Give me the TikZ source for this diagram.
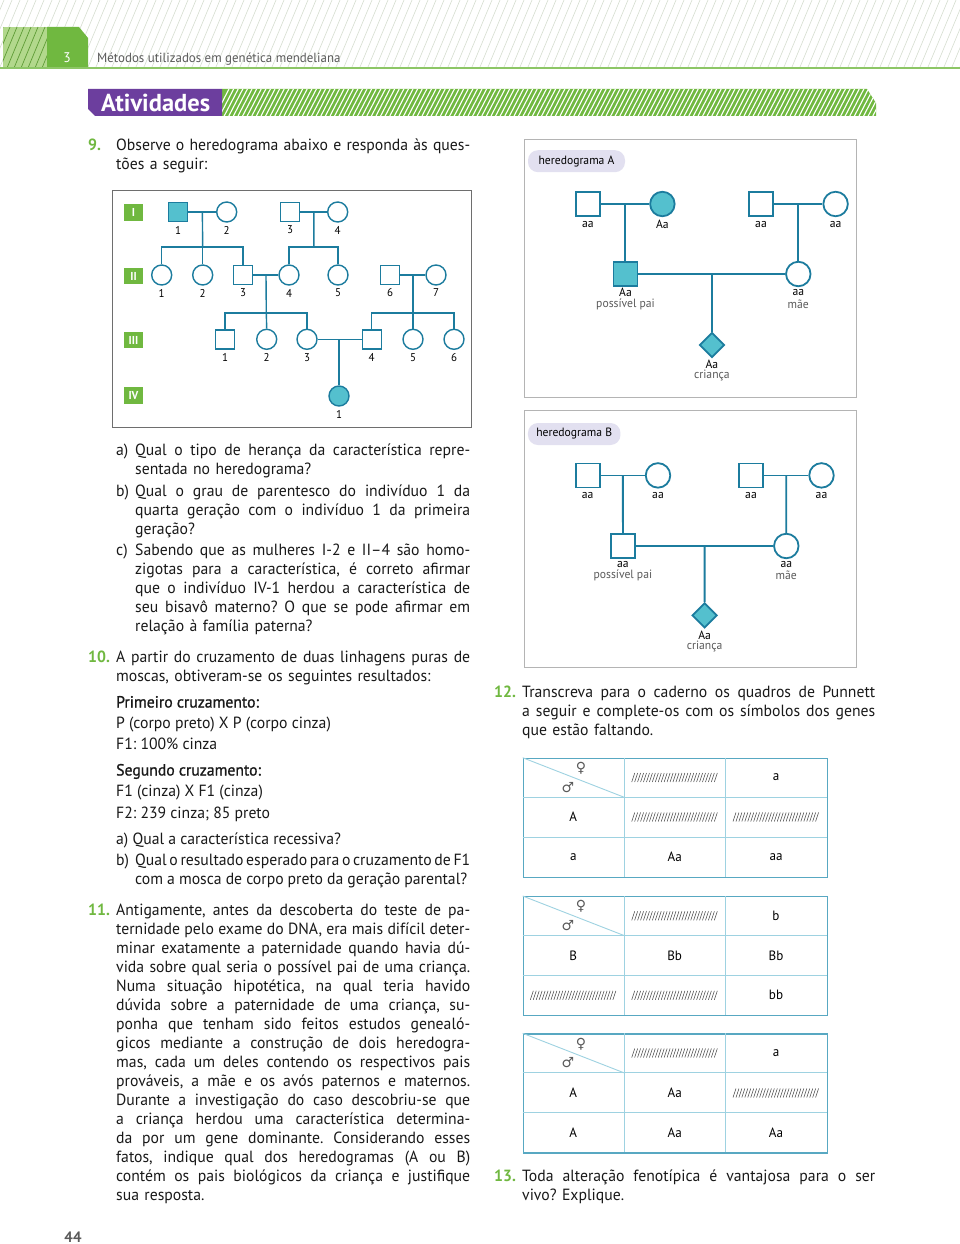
\documentclass[tikz,border=0pt]{standalone}
\usepackage{fontspec}
\setmainfont{PT Sans}[FakeStretch=0.97]
\newfontfamily\headfont{PT Sans}
\newfontfamily\symfont{DejaVu Sans}
\newfontfamily\medfont{PT Sans}[FakeStretch=0.97,FakeBold=1.1]
\usetikzlibrary{shapes.geometric,calc}
\definecolor{pgreen}{RGB}{112,184,64}
\definecolor{lgreen}{RGB}{178,216,140}
\definecolor{ppurple}{RGB}{108,62,158}
\definecolor{tealline}{RGB}{28,124,158}
\definecolor{tealfill}{RGB}{84,192,206}
\definecolor{boxgray}{RGB}{110,110,110}
\definecolor{lboxgray}{RGB}{180,180,180}
\definecolor{pill}{RGB}{226,224,240}
\definecolor{pout}{RGB}{88,168,194}
\definecolor{pin}{RGB}{158,210,225}
\definecolor{txtgray}{RGB}{90,90,90}
\definecolor{hatchgray}{RGB}{214,222,208}
\newcommand\jl[2]{\leavevmode\hbox to #1{\spaceskip=0.27em plus 1fil minus 0.16em\relax #2}}
\newcommand\pedsym[6]{\node[#1] (#2) at (#3,#4) {}; \node[pnum] (#2l) at (#3,#4+#6) {#5};}
\newcommand\pcell[4]{\node[pc] (#1) at (#2,#3) {#4};}
\newcommand\ptable[2]{%
  \node[ptab, anchor=north west] (#1) at (522.7,#2) {};
  \draw[pin] (624,#2) -- (624,#2+119);
  \draw[pin] (725.3,#2) -- (725.3,#2+119);
  \draw[pin] (522.7,#2+39.5) -- (826.7,#2+39.5);
  \draw[pin] (522.7,#2+79.3) -- (826.7,#2+79.3);
  \draw[pin] (#1.north west) -- (624,#2+39.5);
  \node[sexsym] (#1f) at (581,#2+10.5) {♀};
  \node[sexsym] (#1m) at (568,#2+29.5) {♂};
}
\begin{document}
\begin{tikzpicture}[x=1pt,y=-1pt,
  txt/.style={anchor=base west, inner sep=0pt, font=\fontsize{16.2}{19}\selectfont\frenchspacing, text=black!90},
  qnum/.style={anchor=base west, inner sep=0pt, font=\fontsize{16.2}{19}\selectfont\bfseries, text=pgreen},
  ped/.style={draw=tealline, line width=1.4pt},
  sq/.style={ped, rectangle, minimum size=19pt, inner sep=0pt},
  ci/.style={ped, circle, minimum size=20pt, inner sep=0pt},
  fsq/.style={sq, fill=tealfill}, fci/.style={ci, fill=tealfill},
  pnum/.style={inner sep=0pt, font=\fontsize{11.3}{12}\selectfont},
  gen/.style={fill=pgreen, minimum width=18.5pt, minimum height=16.5pt, inner sep=0pt, text=white, font=\fontsize{11.5}{12}\selectfont\bfseries},
  hped/.style={draw=tealline, line width=1.8pt},
  hsq/.style={hped, rectangle, minimum size=24pt, inner sep=0pt},
  hci/.style={hped, circle, minimum size=24.5pt, inner sep=0pt},
  hdi/.style={hped, diamond, minimum size=25pt, inner sep=0pt, fill=tealfill},
  hlab/.style={inner sep=0pt, font=\fontsize{12}{12}\selectfont},
  hrole/.style={hlab, text=txtgray},
  tag/.style={fill=pill, rounded corners=10pt, inner sep=0pt, minimum height=22pt, font=\fontsize{12}{12}\selectfont},
  ptab/.style={draw=pout, line width=1.3pt, minimum width=304pt, minimum height=119pt, inner sep=0pt},
  pin/.style={draw=pin, line width=0.9pt},
  pc/.style={inner sep=0pt, font=\fontsize{13.5}{14}\selectfont},
  sexsym/.style={inner sep=0pt, font=\symfont\fontsize{14}{14}\selectfont, text=txtgray},
  slashes/.pic={\foreach \i in {0,...,28} \draw[black!70, line width=0.55pt] (-43+\i*2.95,4.5) -- (-40+\i*2.95,-4.5);}
]
\useasboundingbox (0,0) rectangle (960,1244);
\fill[white] (0,0) rectangle (960,1244);
% ---------- header ----------
\begin{scope}
  \clip (0,0) rectangle (960,67);
  \foreach \i in {-10,...,125} \draw[hatchgray, line width=0.6pt] (\i*8,67) -- (\i*8+28,0);
\end{scope}
\fill[white] (3,27) rectangle (47,68);
\fill[lgreen] (3,27) rectangle (47,68);
\begin{scope}
  \clip (3,27) rectangle (47,68);
  \foreach \i in {-4,...,8} \draw[pgreen!85!black, line width=0.7pt] (\i*7,68) -- (\i*7+17,27);
\end{scope}
\fill[pgreen] (47,27) -- (79,27) -- (88,38) -- (88,68) -- (47,68) -- cycle;
\draw[pgreen!80, line width=1.4pt] (0,68) -- (960,68);
\node[inner sep=0pt, anchor=base, text=white, font=\fontsize{14}{14}\selectfont] (chap) at (67,63) {3};
\node[inner sep=0pt, anchor=base west, text=txtgray, font=\fontsize{13.3}{14}\selectfont] (chaptitle) at (97,63) {Métodos utilizados em genética mendeliana};
% ---------- Atividades bar ----------
\fill[pgreen] (222,89) -- (867,89) -- (876,103) -- (876,116) -- (222,116) -- cycle;
\begin{scope}
  \clip (222,89) -- (867,89) -- (876,103) -- (876,116) -- (222,116) -- cycle;
  \foreach \i in {0,...,150} \draw[white, line width=1.1pt] (215+\i*4.6,116) -- (229+\i*4.6,89);
\end{scope}
\fill[ppurple] (88,89) -- (222,89) -- (222,116) -- (95,116) -- (88,109) -- cycle;
\node[inner sep=0pt, anchor=base west, text=white, font=\headfont\fontsize{24.5}{25}\selectfont\bfseries] (ativ) at (101,111.5) {Atividades};
% ---------- Question 9 ----------
\node[qnum] (n9) at (88,150.5) {9.};
\node[txt, text width=354pt] (q9) at (116,150.5) {\jl{354pt}{Observe o heredograma abaixo e responda às ques-}\\tões a seguir:};
% pedigree box
\draw[boxgray, line width=1pt] (112.7,190) rectangle (471.5,427.5);
\node[gen] (gI) at (133.5,212.3) {I};
\node[gen] (gII) at (133.5,276) {II};
\node[gen] (gIII) at (133.5,340) {III};
\node[gen] (gIV) at (133.5,395.5) {IV};
% generation I
\pedsym{fsq}{I1}{178}{212}{1}{18}
\pedsym{ci}{I2}{226.7}{212}{2}{18}
\pedsym{sq}{I3}{290}{212}{3}{18}
\pedsym{ci}{I4}{337.7}{212}{4}{18}
% generation II
\pedsym{ci}{II1}{161.7}{275}{1}{18}
\pedsym{ci}{II2}{202.7}{275}{2}{18}
\pedsym{sq}{II3}{243}{275}{3}{18}
\pedsym{ci}{II4}{289}{275}{4}{18}
\pedsym{ci}{II5}{338}{275}{5}{18}
\pedsym{sq}{II6}{390}{275}{6}{18}
\pedsym{ci}{II7}{436}{275}{7}{18}
% generation III
\pedsym{sq}{III1}{225}{339.3}{1}{18.5}
\pedsym{ci}{III2}{266.7}{339.3}{2}{18.5}
\pedsym{ci}{III3}{307}{339.3}{3}{18.5}
\pedsym{sq}{III4}{371.7}{339.3}{4}{18.5}
\pedsym{ci}{III5}{413}{339.3}{5}{18.5}
\pedsym{ci}{III6}{454}{339.3}{6}{18.5}
% generation IV
\pedsym{fci}{IV1}{339}{396}{1}{18.5}
% connectors
\coordinate (m1) at ($(I1)!0.5!(I2)$);
\coordinate (s1) at (202.7,247);
\draw[ped] (I1.east) -- (I2.west);
\draw[ped] (m1) -- (s1);
\draw[ped] (II1.north) |- (s1) -| (II3.north);
\draw[ped] (s1) -- (II2.north);
\coordinate (m2) at ($(I3)!0.5!(I4)$);
\coordinate (s2) at (313.9,247);
\draw[ped] (I3.east) -- (I4.west);
\draw[ped] (m2) -- (s2);
\draw[ped] (II4.north) |- (s2) -| (II5.north);
\coordinate (m3) at ($(II3)!0.5!(II4)$);
\coordinate (s3) at (266.3,313);
\draw[ped] (II3.east) -- (II4.west);
\draw[ped] (m3) -- (s3);
\draw[ped] (III1.north) |- (s3) -| (III3.north);
\draw[ped] (s3) -- (III2.north);
\coordinate (m4) at ($(II6)!0.5!(II7)$);
\coordinate (s4) at (413,313);
\draw[ped] (II6.east) -- (II7.west);
\draw[ped] (m4) -- (s4);
\draw[ped] (III4.north) |- (s4) -| (III6.north);
\draw[ped] (s4) -- (III5.north);
\coordinate (m5) at (339,339.3);
\draw[ped] (III3.east) -- (III4.west);
\draw[ped] (m5) -- (IV1.north);
% questions 9 a-c
\node[txt, text width=354pt] (q9a) at (116,455.5) {\makebox[19pt][l]{a)}\jl{335pt}{Qual o tipo de herança da característica repre-}\\\hspace*{19pt}sentada no heredograma?};
\node[txt, text width=354pt] (q9b) at (116,496.5) {\makebox[19pt][l]{b)}\jl{335pt}{Qual o grau de parentesco do indivíduo 1 da}\\\hspace*{19pt}\jl{335pt}{quarta geração com o indivíduo 1 da primeira}\\\hspace*{19pt}geração?};
\node[txt, text width=354pt] (q9c) at (116,555.5) {\makebox[19pt][l]{c)}\jl{335pt}{Sabendo que as mulheres I-2 e II–4 são homo-}\\\hspace*{19pt}\jl{335pt}{zigotas para a característica, é correto afirmar}\\\hspace*{19pt}\jl{335pt}{que o indivíduo IV-1 herdou a característica de}\\\hspace*{19pt}\jl{335pt}{seu bisavô materno? O que se pode afirmar em}\\\hspace*{19pt}relação à família paterna?};
% ---------- Question 10 ----------
\node[qnum] (n10) at (88,662.5) {10.};
\node[txt, text width=354pt] (q10) at (116,662.5) {\jl{354pt}{A partir do cruzamento de duas linhagens puras de}\\moscas, obtiveram-se os seguintes resultados:};
\node[txt] (c1h) at (116,707.5) {\medfont Primeiro cruzamento:};
\node[txt] (c1a) at (116,728.5) {P (corpo preto) X P (corpo cinza)};
\node[txt] (c1b) at (116,749.5) {F1: 100\% cinza};
\node[txt] (c2h) at (116,775.5) {\medfont Segundo cruzamento:};
\node[txt] (c2a) at (116,796.5) {F1 (cinza) X F1 (cinza)};
\node[txt] (c2b) at (116,818.5) {F2: 239 cinza; 85 preto};
\node[txt] (q10a) at (116,844.5) {a) Qual a característica recessiva?};
\node[txt, text width=360pt] (q10b) at (116,865.5) {\makebox[19pt][l]{b)}\jl{335pt}{Qual o resultado esperado para o cruzamento de F1}\\\hspace*{19pt}\jl{332pt}{com a mosca de corpo preto da geração parental?}};
% ---------- Question 11 ----------
\node[qnum] (n11) at (88,915.5) {11.};
\node[txt, text width=354pt] (q11) at (116,915.5) {%
\jl{354pt}{Antigamente, antes da descoberta do teste de pa-}\\
\jl{354pt}{ternidade pelo exame do DNA, era mais difícil deter-}\\
\jl{354pt}{minar exatamente a paternidade quando havia dú-}\\
\jl{354pt}{vida sobre qual seria o possível pai de uma criança.}\\
\jl{354pt}{Numa situação hipotética, na qual teria havido}\\
\jl{354pt}{dúvida sobre a paternidade de uma criança, su-}\\
\jl{354pt}{ponha que tenham sido feitos estudos genealó-}\\
\jl{354pt}{gicos mediante a construção de dois heredogra-}\\
\jl{354pt}{mas, cada um deles contendo os respectivos pais}\\
\jl{354pt}{prováveis, a mãe e os avós paternos e maternos.}\\
\jl{354pt}{Durante a investigação do caso descobriu-se que}\\
\jl{354pt}{a criança herdou uma característica determina-}\\
\jl{354pt}{da por um gene dominante. Considerando esses}\\
\jl{354pt}{fatos, indique qual dos heredogramas (A ou B)}\\
\jl{354pt}{contém os pais biológicos da criança e justifique}\\
sua resposta.};
% ---------- heredograma A ----------
\draw[lboxgray, line width=1pt] (524,139.5) rectangle (856,397);
\node[tag, minimum width=97pt] (tagA) at (576.5,161.2) {heredograma A};
\node[hsq] (Agf) at (587.8,204) {};
\node[hci, fill=tealfill] (Agm) at (662.4,204) {};
\node[hsq] (Amgf) at (761,204) {};
\node[hci] (Amgm) at (835.6,204) {};
\node[hlab] (Agfl) at (587.8,224) {aa};
\node[hlab] (Agml) at (662.4,224) {Aa};
\node[hlab] (Amgfl) at (761,224) {aa};
\node[hlab] (Amgml) at (835.6,224) {aa};
\node[hsq, fill=tealfill] (Af) at (625.5,274) {};
\node[hci] (Am) at (798.3,274) {};
\node[hlab] (Afl) at (625.5,292.5) {Aa};
\node[hrole] (Afr) at (625.5,304) {possível pai};
\node[hlab] (Aml) at (798.3,292.5) {aa};
\node[hrole] (Amr) at (798.3,304) {mãe};
\node[hdi] (Ac) at (711.9,345) {};
\node[hlab] (Acl) at (711.9,364.5) {Aa};
\node[hrole] (Acr) at (711.9,375.5) {criança};
\coordinate (mA1) at ($(Agf)!0.5!(Agm)$);
\coordinate (mA2) at ($(Amgf)!0.5!(Amgm)$);
\coordinate (mA3) at ($(Af)!0.5!(Am)$);
\draw[hped] (Agf.east) -- (Agm.west);
\draw[hped] (mA1) -- (mA1 |- Af.north);
\draw[hped] (Amgf.east) -- (Amgm.west);
\draw[hped] (mA2) -- (Am.north);
\draw[hped] (Af.east) -- (Am.west);
\draw[hped] (mA3) -- (Ac.north);
% ---------- heredograma B ----------
\draw[lboxgray, line width=1pt] (524,410) rectangle (856,667);
\node[tag, minimum width=92.5pt] (tagB) at (574.2,434) {heredograma B};
\node[hsq] (Bgf) at (587.7,475.4) {};
\node[hci] (Bgm) at (658,475.4) {};
\node[hsq] (Bmgf) at (751,475.4) {};
\node[hci] (Bmgm) at (821.5,475.4) {};
\node[hlab] (Bgfl) at (587.7,495.5) {aa};
\node[hlab] (Bgml) at (658,495.5) {aa};
\node[hlab] (Bmgfl) at (751,495.5) {aa};
\node[hlab] (Bmgml) at (821.5,495.5) {aa};
\node[hsq] (Bf) at (622.9,546) {};
\node[hci] (Bm) at (786.3,546) {};
\node[hlab] (Bfl) at (622.9,564) {aa};
\node[hrole] (Bfr) at (622.9,575.5) {possível pai};
\node[hlab] (Bml) at (786.3,564) {aa};
\node[hrole] (Bmr) at (786.3,575.5) {mãe};
\node[hdi] (Bc) at (704.6,615.4) {};
\node[hlab] (Bcl) at (704.6,635) {Aa};
\node[hrole] (Bcr) at (704.6,646) {criança};
\coordinate (mB1) at ($(Bgf)!0.5!(Bgm)$);
\coordinate (mB2) at ($(Bmgf)!0.5!(Bmgm)$);
\coordinate (mB3) at ($(Bf)!0.5!(Bm)$);
\draw[hped] (Bgf.east) -- (Bgm.west);
\draw[hped] (mB1) -- (Bf.north);
\draw[hped] (Bmgf.east) -- (Bmgm.west);
\draw[hped] (mB2) -- (Bm.north);
\draw[hped] (Bf.east) -- (Bm.west);
\draw[hped] (mB3) -- (Bc.north);
% ---------- Question 12 ----------
\node[qnum] (n12) at (494,697.5) {12.};
\node[txt, text width=354pt] (q12) at (522,697.5) {\jl{353pt}{Transcreva para o caderno os quadros de Punnett}\\\jl{353pt}{a seguir e complete-os com os símbolos dos genes}\\que estão faltando.};
% Punnett table 1
\ptable{T1}{757.7}
\pic at (674.7,777.5) {slashes};
\pcell{T1a}{776}{777.5}{a}
\pcell{T1A}{573.3}{817}{A}
\pic at (674.7,817) {slashes};
\pic at (776,817) {slashes};
\pcell{T1b}{573.3}{857}{a}
\pcell{T1c}{674.7}{857}{Aa}
\pcell{T1d}{776}{857}{aa}
% Punnett table 2
\ptable{T2}{896}
\pic at (674.7,915.8) {slashes};
\pcell{T2a}{776}{915.8}{b}
\pcell{T2B}{573.3}{955.5}{B}
\pcell{T2c}{674.7}{955.5}{Bb}
\pcell{T2d}{776}{955.5}{Bb}
\pic at (573.3,995.3) {slashes};
\pic at (674.7,995.3) {slashes};
\pcell{T2e}{776}{995.3}{bb}
% Punnett table 3
\ptable{T3}{1033.3}
\pic at (674.7,1053) {slashes};
\pcell{T3a}{776}{1053}{a}
\pcell{T3A}{573.3}{1093}{A}
\pcell{T3c}{674.7}{1093}{Aa}
\pic at (776,1093) {slashes};
\pcell{T3B}{573.3}{1133}{A}
\pcell{T3d}{674.7}{1133}{Aa}
\pcell{T3e}{776}{1133}{Aa}
% ---------- Question 13 ----------
\node[qnum] (n13) at (494,1181.5) {13.};
\node[txt, text width=354pt] (q13) at (522,1181.5) {\jl{353pt}{Toda alteração fenotípica é vantajosa para o ser}\\vivo? Explique.};
% page number
\node[inner sep=0pt, anchor=base, text=txtgray, font=\headfont\fontsize{15}{16}\selectfont\bfseries] (page) at (73,1242) {44};
\end{tikzpicture}
\end{document}
